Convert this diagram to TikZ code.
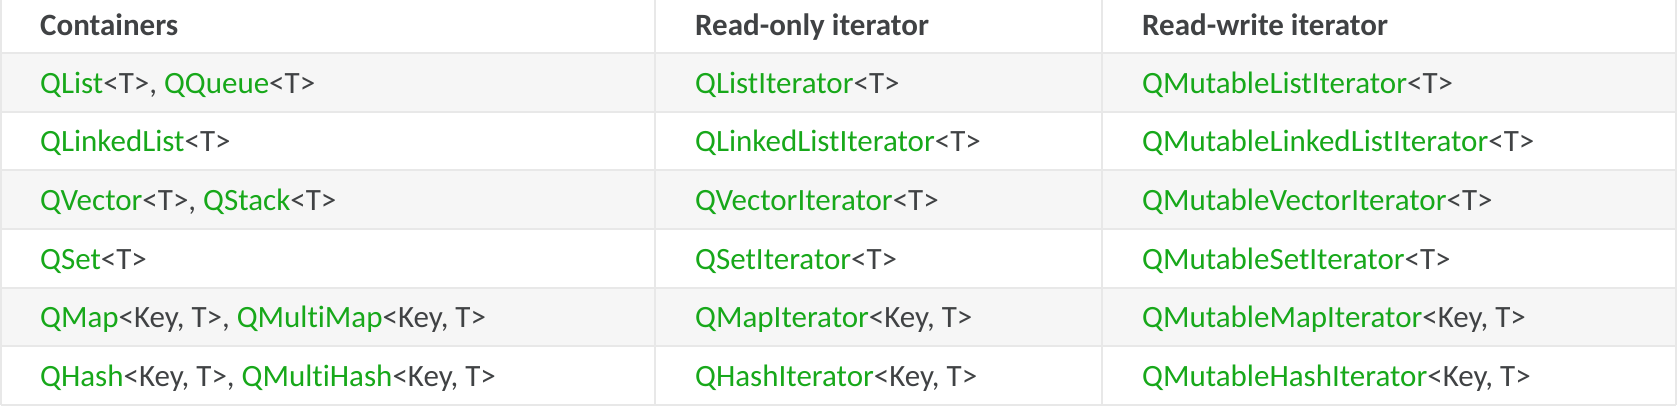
\documentclass[tikz,border=0pt]{standalone}
\usepackage{fontspec}
\setmainfont[Ligatures=NoCommon]{Carlito}
\definecolor{qtgreen}{HTML}{17A81A}
\definecolor{txtgray}{HTML}{404244}
\definecolor{rowgray}{HTML}{F6F6F6}
\definecolor{rulegray}{HTML}{E8E8E8}
\newcommand{\qcls}[1]{\textcolor{qtgreen}{#1}}
\tikzset{
  cell/.style={anchor=base west, inner sep=0pt, text=txtgray, font=\fontsize{31}{36}\selectfont},
  head/.style={cell, font=\fontsize{31}{36}\selectfont\bfseries},
  rule/.style={draw=rulegray, line width=2pt}
}
\begin{document}
\begin{tikzpicture}
  [x=1pt,y=-1pt]
  \useasboundingbox (0,0) rectangle (1677,408);

  \fill[rowgray] (1,53)    rectangle (1676,111.7);
  \fill[rowgray] (1,170.3) rectangle (1676,229);
  \fill[rowgray] (1,287.7) rectangle (1676,346.3);

  \draw[rule] (1,53)    -- (1676,53);
  \draw[rule] (1,111.7) -- (1676,111.7);
  \draw[rule] (1,170.3) -- (1676,170.3);
  \draw[rule] (1,229)   -- (1676,229);
  \draw[rule] (1,287.7) -- (1676,287.7);
  \draw[rule] (1,346.3) -- (1676,346.3);
  \draw[rule] (1,405)   -- (1676,405);
  \draw[rule] (1,0) -- (1,405);
  \draw[rule] (655,0) -- (655,405);
  \draw[rule] (1102,0) -- (1102,405);
  \draw[rule] (1676,0) -- (1676,405);

  \node[head] (h1) at (40,35)   {Containers};
  \node[head] (h2) at (695,35)  {Read-only iterator};
  \node[head] (h3) at (1142,35) {Read-write iterator};

  \node[cell] (c1) at (40,93)    {\qcls{QList}<T>, \qcls{QQueue}<T>};
  \node[cell] (c2) at (40,151.7) {\qcls{QLinkedList}<T>};
  \node[cell] (c3) at (40,210.3) {\qcls{QVector}<T>, \qcls{QStack}<T>};
  \node[cell] (c4) at (40,269)   {\qcls{QSet}<T>};
  \node[cell] (c5) at (40,327.7) {\qcls{QMap}<Key, T>, \qcls{QMultiMap}<Key, T>};
  \node[cell] (c6) at (40,386.3) {\qcls{QHash}<Key, T>, \qcls{QMultiHash}<Key, T>};

  \node[cell] (r1) at (695,93)    {\qcls{QListIterator}<T>};
  \node[cell] (r2) at (695,151.7) {\qcls{QLinkedListIterator}<T>};
  \node[cell] (r3) at (695,210.3) {\qcls{QVectorIterator}<T>};
  \node[cell] (r4) at (695,269)   {\qcls{QSetIterator}<T>};
  \node[cell] (r5) at (695,327.7) {\qcls{QMapIterator}<Key, T>};
  \node[cell] (r6) at (695,386.3) {\qcls{QHashIterator}<Key, T>};

  \node[cell] (w1) at (1142,93)    {\qcls{QMutableListIterator}<T>};
  \node[cell] (w2) at (1142,151.7) {\qcls{QMutableLinkedListIterator}<T>};
  \node[cell] (w3) at (1142,210.3) {\qcls{QMutableVectorIterator}<T>};
  \node[cell] (w4) at (1142,269)   {\qcls{QMutableSetIterator}<T>};
  \node[cell] (w5) at (1142,327.7) {\qcls{QMutableMapIterator}<Key, T>};
  \node[cell] (w6) at (1142,386.3) {\qcls{QMutableHashIterator}<Key, T>};
\end{tikzpicture}
\end{document}
